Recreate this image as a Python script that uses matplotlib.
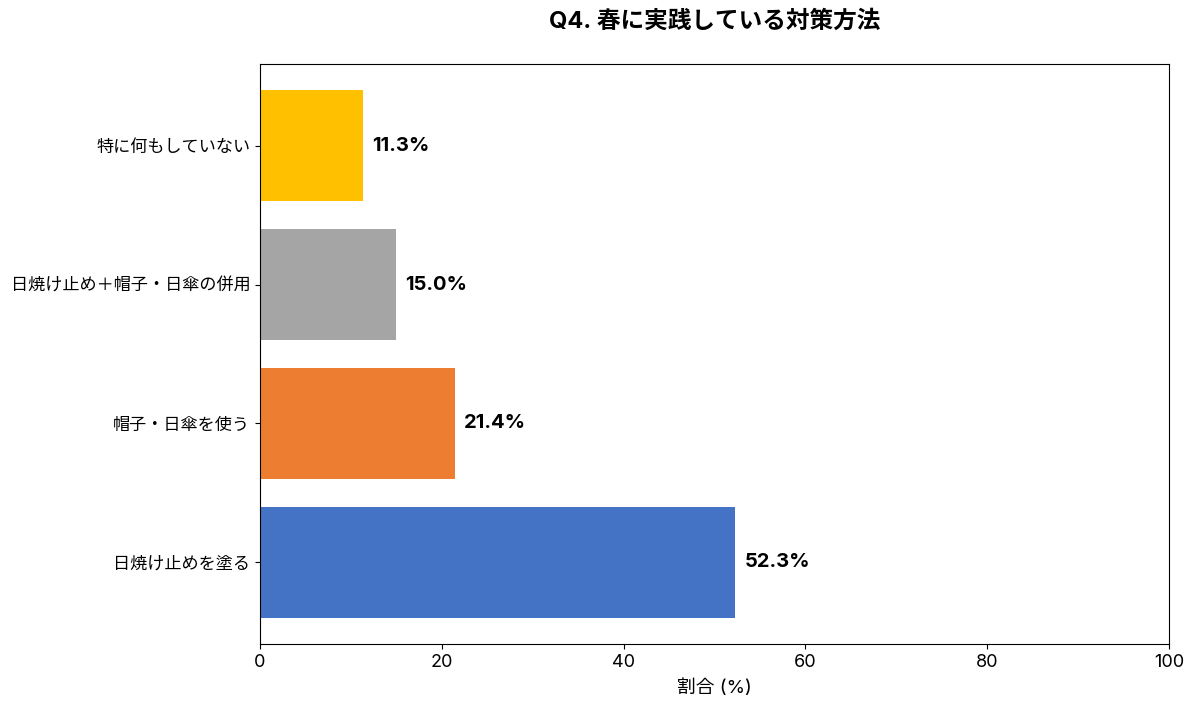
import matplotlib.pyplot as plt

plt.rcParams['font.family'] = ['Inter', 'Noto Sans CJK JP', 'DejaVu Sans']

categories = ['日焼け止めを塗る', '帽子・日傘を使う', '日焼け止め＋帽子・日傘の併用', '特に何もしていない']
values = [52.3, 21.4, 15.0, 11.3]
colors = ['#4472C4', '#ED7D31', '#A5A5A5', '#FFC000']
title = 'Q4. 春に実践している対策方法'
xlabel = '割合 (%)'

fig = plt.figure(figsize=(11.98, 7.11), dpi=100)
ax = fig.add_axes([260 / 1198, 1 - 644 / 711, (1169 - 260) / 1198, (644 - 64) / 711])

ax.barh(categories, values, color=colors, height=0.8)
for i, v in enumerate(values):
    ax.text(v + 1, i, f'{v:.1f}%', va='center', ha='left',
            fontsize=14.5, fontweight='bold')

ax.set_xlim(0, 100)
ax.set_xlabel(xlabel, fontsize=13.5, labelpad=6)
ax.tick_params(axis='x', labelsize=13)
ax.tick_params(axis='y', labelsize=12.3)
fig.suptitle(title, fontsize=17, fontweight='bold', x=(260 + 1169) / 2 / 1198, y=0.985)

plt.savefig('out.png', dpi=100)
